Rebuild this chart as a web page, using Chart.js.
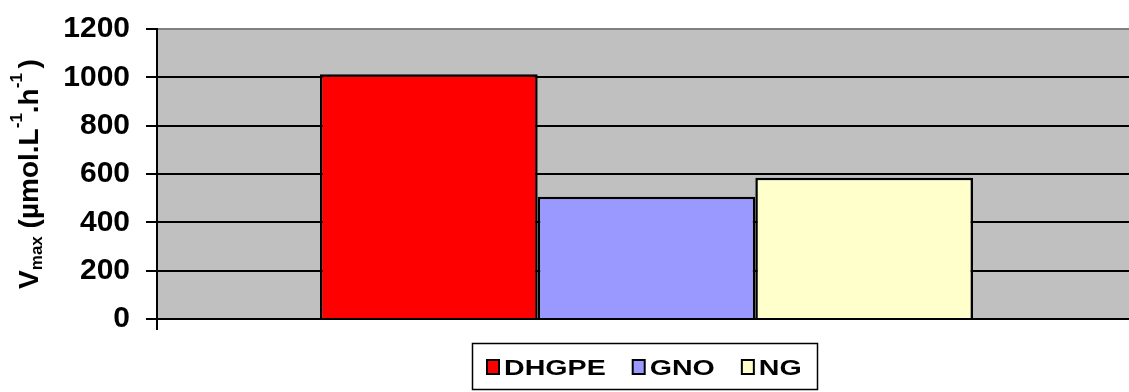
<!DOCTYPE html>
<html>
<head>
<meta charset="utf-8">
<title>Vmax</title>
<script src="https://cdn.jsdelivr.net/npm/chart.js@4/dist/chart.umd.min.js"></script>
<style>
  html, body { margin: 0; padding: 0; background: #fff; overflow: hidden; }
  canvas { display: block; }
</style>
</head>
<body>
<canvas id="chart" width="1136" height="392"></canvas>
<script>
// Single category, one bar per preparation
const categories = [''];
const seriesNames = ['DHGPE', 'GNO', 'NG'];
const vmaxValues = [1013, 506, 585];
const seriesColors = ['#FF0000', '#9999FF', '#FFFFCC'];
const yTicks = [0, 200, 400, 600, 800, 1000, 1200];
const yTickLabels = ['0', '200', '400', '600', '800', '1000', '1200'];

const FONT = '"Liberation Sans", Arial, Helvetica, sans-serif';

// Grey plotting area behind grid and bars
const plotBackground = {
  id: 'plotBackground',
  beforeDraw(chart) {
    const { ctx, chartArea: a } = chart;
    ctx.save();
    ctx.fillStyle = '#C0C0C0';
    ctx.fillRect(a.left, a.top, a.right - a.left, a.bottom - a.top);
    ctx.restore();
  }
};

// Rotated y-axis title with subscript / superscripts
const yAxisTitle = {
  id: 'yAxisTitle',
  afterDraw(chart) {
    const { ctx, chartArea: a } = chart;
    const parts = [
      { t: 'V', k: 'main' },
      { t: 'max', k: 'sub' },
      { t: ' (\u00B5mol.L', k: 'main' },
      { t: '-1', k: 'sup' },
      { t: '.h', k: 'main' },
      { t: '-1 ', k: 'sup' },
      { t: ')', k: 'main' }
    ];
    const fonts = {
      main: 'bold 28px ' + FONT,
      sub: 'bold 17px ' + FONT,
      sup: 'bold 17px ' + FONT
    };
    const shift = { main: 0, sub: 4, sup: -16 };
    ctx.save();
    let total = 0;
    parts.forEach(p => { ctx.font = fonts[p.k]; p.w = ctx.measureText(p.t).width; total += p.w; });
    ctx.translate(38, (a.top + a.bottom) / 2);
    ctx.rotate(-Math.PI / 2);
    ctx.fillStyle = '#000';
    ctx.textBaseline = 'alphabetic';
    ctx.textAlign = 'left';
    let x = -total / 2;
    parts.forEach(p => {
      ctx.font = fonts[p.k];
      ctx.fillText(p.t, x, shift[p.k]);
      x += p.w;
    });
    ctx.restore();
  }
};

// Boxed legend centred under the plotting area
const boxedLegend = {
  id: 'boxedLegend',
  afterDraw(chart) {
    const { ctx, chartArea: a } = chart;
    const sx = 1.3;
    const sw = 12, sh = 14, gapText = 5, gapItem = 27, padX = 15;
    ctx.save();
    ctx.font = 'bold 22px ' + FONT;
    const items = chart.data.datasets.map(ds => ({
      label: ds.label,
      color: ds.backgroundColor,
      w: ctx.measureText(ds.label).width * sx
    }));
    const contentW = items.reduce((s, it) => s + sw + gapText + it.w, 0) + gapItem * (items.length - 1);
    const boxW = contentW + padX * 2;
    const cx = (a.left + a.right) / 2 - 2;
    const left = Math.round(cx - boxW / 2);
    const top = Math.round(a.bottom + 24);
    const h = 46;
    ctx.strokeStyle = '#000';
    ctx.lineWidth = 1.5;
    ctx.strokeRect(left + 0.5, top + 0.5, Math.round(boxW), h);
    let x = left + padX;
    const baseline = top + 32;
    items.forEach(it => {
      ctx.fillStyle = it.color;
      ctx.fillRect(x, top + 17, sw, sh);
      ctx.lineWidth = 2;
      ctx.strokeStyle = '#000';
      ctx.strokeRect(x, top + 17, sw, sh);
      ctx.save();
      ctx.translate(x + sw + gapText, baseline);
      ctx.scale(sx, 1);
      ctx.fillStyle = '#000';
      ctx.textBaseline = 'alphabetic';
      ctx.textAlign = 'left';
      ctx.fillText(it.label, 0, 0);
      ctx.restore();
      x += sw + gapText + it.w + gapItem;
    });
    ctx.restore();
  }
};

const datasets = seriesNames.map((name, i) => ({
  label: name,
  data: [vmaxValues[i]],
  backgroundColor: seriesColors[i],
  borderColor: '#000',
  borderWidth: 2.5,
  barPercentage: 1.0,
  categoryPercentage: 0.667
}));

new Chart(document.getElementById('chart'), {
  type: 'bar',
  data: { labels: categories, datasets },
  plugins: [plotBackground, yAxisTitle, boxedLegend],
  options: {
    responsive: false,
    animation: false,
    devicePixelRatio: 1,
    layout: { padding: { top: 29, left: 0, right: 0, bottom: 0 } },
    plugins: {
      legend: { display: false },
      tooltip: { enabled: false },
      title: { display: false }
    },
    scales: {
      x: {
        grid: {
          offset: true,
          drawOnChartArea: false,
          drawTicks: true,
          tickLength: 11,
          color: '#000',
          lineWidth: 2
        },
        border: { display: true, color: '#000', width: 2 },
        ticks: { display: false },
        afterFit(scale) { scale.height = 73; }
      },
      y: {
        min: yTicks[0],
        max: yTicks[yTicks.length - 1],
        afterBuildTicks(scale) { scale.ticks = yTicks.map(v => ({ value: v })); },
        grid: {
          color: ctx => (ctx.tick && ctx.tick.value === yTicks[yTicks.length - 1]) ? '#808080' : '#000',
          tickColor: '#000',
          lineWidth: 2,
          tickLength: 11
        },
        border: { display: true, color: '#000', width: 2 },
        ticks: {
          color: '#000',
          padding: 16,
          font: { family: FONT, size: 30, weight: 'bold' },
          callback: (value, index) => yTickLabels[index]
        },
        afterFit(scale) {
          scale.width = 157;
          scale.paddingTop = 16;
          scale.paddingBottom = 16;
        }
      }
    }
  }
});
</script>
</body>
</html>
